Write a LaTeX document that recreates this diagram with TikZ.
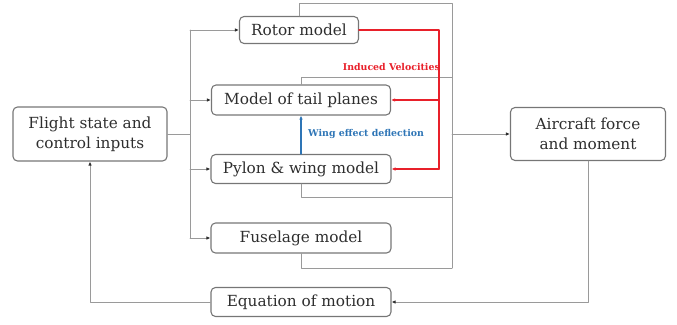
\documentclass[tikz,border=0pt]{standalone}
\usepackage{fontspec}
\setmainfont{DejaVu Serif}
\usetikzlibrary{arrows.meta}
\definecolor{boxgray}{HTML}{767676}
\definecolor{linegray}{HTML}{9A9A9A}
\definecolor{txtgray}{HTML}{2E2E2E}
\definecolor{velred}{HTML}{E8202A}
\definecolor{wingblue}{HTML}{2E75B6}
\tikzset{
  blk/.style={draw=boxgray,line width=1.1pt,rounded corners=4.5pt,text=txtgray,
    font=\fontsize{15.3}{20}\selectfont,align=center,inner sep=0pt},
  conn/.style={draw=linegray,line width=0.9pt,
    -{Latex[length=4pt,width=3.5pt,color=txtgray]}},
  plain/.style={draw=linegray,line width=0.9pt},
  redline/.style={draw=velred,line width=1.8pt},
  blueline/.style={draw=wingblue,line width=1.5pt},
  lbl/.style={font=\bfseries\fontsize{9.4}{11}\selectfont,inner sep=0pt}
}
\begin{document}
\begin{tikzpicture}[x=1pt,y=-1pt,line cap=round,line join=round,>={Latex[length=4pt,width=3.5pt]}]
\useasboundingbox (0,0) rectangle (677,324);
\node[blk,minimum width=154pt,minimum height=54pt] (flight) at (90,134) {Flight state and\\control inputs};
\node[blk,minimum width=155pt,minimum height=53pt] (force) at (588,134) {Aircraft force\\and moment};
\node[blk,minimum width=119pt,minimum height=27pt] (rotor) at (299,30) {Rotor model};
\node[blk,minimum width=179pt,minimum height=30pt] (tail) at (301,100) {Model of tail planes};
\node[blk,minimum width=180pt,minimum height=29pt] (pylon) at (301,169) {Pylon \& wing model};
\node[blk,minimum width=180pt,minimum height=30pt] (fuse) at (301,238) {Fuselage model};
\node[blk,minimum width=180pt,minimum height=29pt] (eqn) at (301,302) {Equation of motion};
\coordinate (lbus) at (190,134);
\coordinate (bt) at (452,3);
\coordinate (tj) at (452,77);
\coordinate (pj) at (452,197);
\coordinate (bb) at (452,268);
\coordinate (rbus) at (452,134);
\coordinate (rv) at (439,30);
\draw[plain] (flight.east) -- (lbus);
\draw[plain] (rotor.west -| lbus) -- (fuse.west -| lbus);
\foreach \n in {rotor,tail,pylon,fuse}
  \draw[conn] (\n.west -| lbus) -- (\n.west);
\draw[plain] (rotor.north) |- (bt) -- (bb);
\draw[plain] (tail.north) |- (tj);
\draw[plain] (pylon.south) |- (pj);
\draw[plain] (fuse.south) |- (bb);
\draw[conn] (rbus) -- (force.west);
\draw[conn] (force.south) |- (eqn.east);
\draw[conn] (eqn.west) -| (flight.south);
\draw[redline] (rotor.east) -- (rv) -- (rv |- pylon.east);
\draw[redline,->] (rv |- tail.east) -- (tail.east);
\draw[redline,->] (rv |- pylon.east) -- (pylon.east);
\node[lbl,text=velred,anchor=east] (indv) at (440,67) {Induced Velocities};
\draw[blueline,->] (pylon.north) -- (tail.south);
\node[lbl,text=wingblue,anchor=west] (wed) at (308,134) {Wing effect deflection};
\end{tikzpicture}
\end{document}
